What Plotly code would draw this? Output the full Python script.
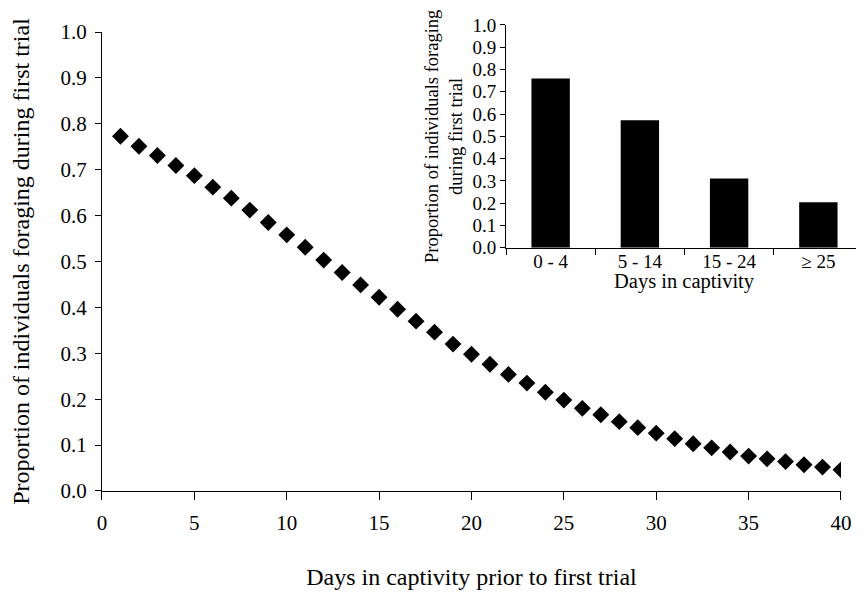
import plotly.graph_objects as go

days = list(range(1, 41))
proportion = [0.773, 0.751, 0.731, 0.709, 0.687, 0.662, 0.638, 0.612, 0.585, 0.558,
              0.531, 0.503, 0.476, 0.449, 0.422, 0.396, 0.370, 0.346, 0.320, 0.298,
              0.276, 0.254, 0.235, 0.215, 0.198, 0.180, 0.166, 0.151, 0.138, 0.126,
              0.114, 0.103, 0.094, 0.085, 0.076, 0.070, 0.064, 0.057, 0.052, 0.046]

inset_categories = ["0 - 4", "5 - 14", "15 - 24", "≥ 25"]
inset_values = [0.760, 0.572, 0.311, 0.204]

FONT = "Liberation Serif, Times New Roman, serif"

# page body has an 8px default margin, so the figure is 8px smaller than the window
W, H = 856, 590

fig = go.Figure()
fig.add_trace(go.Scatter(
    x=days, y=proportion, mode="markers",
    marker=dict(symbol="diamond", size=13, color="black"),
    xaxis="x", yaxis="y", showlegend=False))
fig.add_trace(go.Bar(
    x=inset_categories, y=inset_values,
    marker=dict(color="black", line=dict(width=0)),
    xaxis="x2", yaxis="y2", showlegend=False))

fig.update_layout(
    width=W, height=H,
    margin=dict(l=0, r=0, t=0, b=0),
    paper_bgcolor="white", plot_bgcolor="rgba(0,0,0,0)",
    font=dict(family=FONT, color="black"),
    bargap=0.57,
    xaxis=dict(domain=[0.1098, 0.9731], range=[0, 40], tick0=0, dtick=5, automargin=False,
               showgrid=False, zeroline=False, showline=True, linecolor="black", linewidth=1,
               ticks="outside", ticklen=8, tickwidth=1, tickcolor="black",
               ticklabelstandoff=5, tickfont=dict(size=21),
               title=dict(text="Days in captivity prior to first trial", font=dict(size=24), standoff=34),
               anchor="y"),
    yaxis=dict(domain=[0.1814, 0.9593], range=[0, 1.0], tick0=0, dtick=0.1, tickformat=".1f",
               automargin=False,
               showgrid=False, zeroline=False, showline=True, linecolor="black", linewidth=1,
               ticks="outside", ticklen=6, tickwidth=1, tickcolor="black",
               tickfont=dict(size=21), ticklabelstandoff=4,
               title=dict(text="Proportion of individuals foraging during first trial", font=dict(size=24), standoff=25),
               anchor="x"),
    xaxis2=dict(domain=[0.5818, 0.9988], type="category", range=[-0.5, 3.5], automargin=False,
                showgrid=False, zeroline=False, showline=True, linecolor="black", linewidth=1,
                ticks="outside", tickson="boundaries", ticklen=6, tickcolor="black",
                tickfont=dict(size=19), ticklabelstandoff=-4,
                anchor="y2"),
    yaxis2=dict(domain=[0.5937, 0.9712], range=[0, 1.0], tick0=0, dtick=0.1, tickformat=".1f",
                automargin=False,
                showgrid=False, zeroline=False, showline=True, linecolor="black", linewidth=1,
                ticks="outside", ticklen=5, tickcolor="black",
                tickfont=dict(size=19),
                title=dict(text="Proportion of individuals foraging<br>during first trial", font=dict(size=18.5), standoff=4),
                anchor="x2"),
    annotations=[dict(text="Days in captivity", xref="x2 domain", yref="y2 domain",
                      x=0.5, y=-0.15, xanchor="center", yanchor="middle", showarrow=False,
                      font=dict(size=20.5))],
)

fig.write_html("out.html")
